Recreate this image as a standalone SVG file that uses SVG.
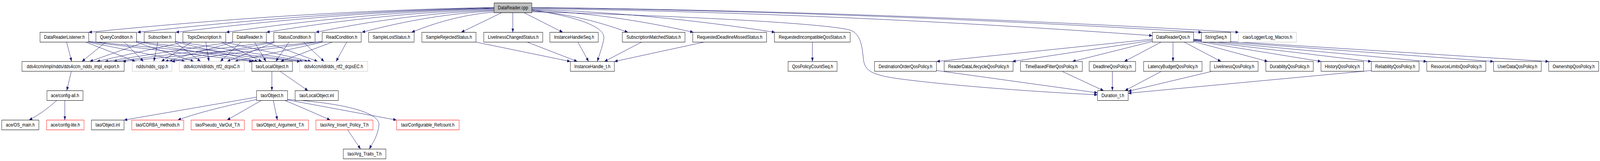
<svg xmlns="http://www.w3.org/2000/svg" width="4961" height="411" viewBox="0 0 4961 411" preserveAspectRatio="none">
<style>
svg{width:100vw;height:100vh}
.e{fill:none;stroke:#191970;stroke-width:1;marker-end:url(#ah)}
.n rect{fill:#fff;stroke:#000;stroke-width:1}
.g rect{stroke:#bfbfbf}
.r rect{stroke:#ff0000}
.m rect{fill:#bfbfbf}
text{font-family:"Liberation Sans",Arial,sans-serif;font-size:13px;text-anchor:middle;fill:#000}
</style>
<defs>
<marker id="ah" markerWidth="10" markerHeight="8" refX="10" refY="4" orient="auto" markerUnits="userSpaceOnUse"><path d="M0,0 L10,4 L0,8 z" fill="#191970"/></marker>
</defs>
<rect width="4961" height="411" fill="#fff"/>
<g id="connectors">
<path class="e" d="M1532,19 C1113,25.4 694,47.6 275,82.5"/>
<path class="e" d="M1532,20 C1163,26.3 795,48.1 426,82.5"/>
<path class="e" d="M1532,21 C1203,27.2 874,48.7 545,82.5"/>
<path class="e" d="M1532,22 C1255,28.1 978,49.2 701,82.5"/>
<path class="e" d="M1532,24 C1297,29.9 1061,50.3 826,82.5"/>
<path class="e" d="M1532,26 C1348,31.7 1163,51.4 979,82.5"/>
<path class="e" d="M1532,28 C1395,33.5 1259,52.5 1122,82.5"/>
<path class="e" d="M1532,31 C1447,36.2 1361,54.2 1276,82.5"/>
<path class="e" d="M1555,32.5 L1430,82.5"/>
<path class="e" d="M1590,32.5 L1590,82.5"/>
<path class="e" d="M1625,32.5 L1745,82.5"/>
<path class="e" d="M1649,25 C1800,45 1880,70 1872,100 C1866,125 1858,140 1852,157"/>
<path class="e" d="M1649,28 C1748,33.5 1848,52.5 1947,82.5"/>
<path class="e" d="M1649,26 C1816,31.7 1983,51.4 2150,82.5"/>
<path class="e" d="M1649,24 C1900,29.9 2152,50.3 2403,82.5"/>
<path class="e" d="M1649,22 C2290,28.9 2932,53 3573,91"/>
<path class="e" d="M1649,20 C2341,26.3 3034,48.1 3726,82.5"/>
<path class="e" d="M1649,19 C2380,25.4 3110,47.6 3841,82.5"/>
<path class="e" d="M1649,30 C2100,40 2580,60 2640,78 C2670,90 2673,120 2677,150 C2681,180 2700,190 2778,200 C2900,214 3150,232 3403,242"/>
<path class="e" d="M206.6,107.5 L222,157"/>
<path class="e" d="M266,107.5 L420,157"/>
<path class="e" d="M273,107.5 L574,157"/>
<path class="e" d="M273,106.5 L783,157"/>
<path class="e" d="M273,105.5 L931,157"/>
<path class="e" d="M328,107.5 L254,157"/>
<path class="e" d="M385.5,107.5 L445,157"/>
<path class="e" d="M421.5,107.5 L601,157"/>
<path class="e" d="M421.5,106.5 L790,157"/>
<path class="e" d="M421.5,105.5 L940,157"/>
<path class="e" d="M449,107.5 L278,157"/>
<path class="e" d="M489.6,107.5 L477,157"/>
<path class="e" d="M542,107.5 L622,157"/>
<path class="e" d="M542,106.5 L800,157"/>
<path class="e" d="M542,105.5 L955,157"/>
<path class="e" d="M569,107.5 L300,157"/>
<path class="e" d="M594,107.5 L500,157"/>
<path class="e" d="M638,107.5 L648,157"/>
<path class="e" d="M687,107.5 L812,157"/>
<path class="e" d="M698,107.5 L965,157"/>
<path class="e" d="M723.5,106.5 L325,157"/>
<path class="e" d="M723.5,107.5 L512,157"/>
<path class="e" d="M747,107.5 L683,157"/>
<path class="e" d="M789,107.5 L825,157"/>
<path class="e" d="M824,107.5 L985,157"/>
<path class="e" d="M851,106.5 L352,157"/>
<path class="e" d="M851,107.5 L524,157"/>
<path class="e" d="M852,107.5 L704,157"/>
<path class="e" d="M896,107.5 L855,157"/>
<path class="e" d="M941,107.5 L1005,157"/>
<path class="e" d="M1001,105.5 L380,157"/>
<path class="e" d="M1001,106.5 L532,157"/>
<path class="e" d="M1001,107.5 L728,157"/>
<path class="e" d="M1030,107.5 L870,157"/>
<path class="e" d="M1075,107.5 L1042,157"/>
<path class="e" d="M1476,107.5 L1768.5,157"/>
<path class="e" d="M1635,107.5 L1790,157"/>
<path class="e" d="M1792,107.5 L1825,157"/>
<path class="e" d="M1989,107.5 L1874,157"/>
<path class="e" d="M2183,107.5 L1905,157"/>
<path class="e" d="M2519,107.5 L2519,157"/>
<path class="e" d="M3573,100 L2904,157"/>
<path class="e" d="M3573,103 L3139,157"/>
<path class="e" d="M3573,106 L3325,157"/>
<path class="e" d="M3600,107.5 L3486,157"/>
<path class="e" d="M3637,107.5 L3637,157"/>
<path class="e" d="M3672,107.5 L3786,157"/>
<path class="e" d="M3701,106 L3931,157"/>
<path class="e" d="M3701,104 L4096,157"/>
<path class="e" d="M3701,103 L4252,157"/>
<path class="e" d="M3701,102 L4424,157"/>
<path class="e" d="M3701,101 L4631,157"/>
<path class="e" d="M3701,100 L4802,157"/>
<path class="e" d="M2904,180 L3403,237"/>
<path class="e" d="M3294,182.5 L3422,231.5"/>
<path class="e" d="M3449,182.5 L3449,231.5"/>
<path class="e" d="M3600,182.5 L3488,231.5"/>
<path class="e" d="M3756,182.5 L3498,233"/>
<path class="e" d="M4252,180 L3498,238"/>
<path class="e" d="M221,182.5 L207,231.5"/>
<path class="e" d="M176,256.5 Q130,290 90,306.5"/>
<path class="e" d="M201,256.5 L201,306.5"/>
<path class="e" d="M843,182.5 L843,231.5"/>
<path class="e" d="M869,182.5 L955,231.5"/>
<path class="e" d="M795.5,248 L384.5,306.5"/>
<path class="e" d="M795.5,254 Q640,280 551,306.5"/>
<path class="e" d="M810,256.5 L704,306.5"/>
<path class="e" d="M847.5,256.5 L860,306.5"/>
<path class="e" d="M883.5,256.5 Q930,272 1024,306.5"/>
<path class="e" d="M891.5,255 L1229.5,306.5"/>
<path class="e" d="M891.5,254 C1050,262 1180,285 1175,320 C1170,350 1155,365 1145,380.5"/>
<path class="e" d="M1078,331.5 L1118,380.5"/>
</g>
<g id="DataReader_cpp" class="n m"><rect x="1532" y="7.5" width="117" height="25"/><text x="1590.5" y="24.5">DataReader.cpp</text></g>
<g id="DataReaderListener_h" class="n"><rect x="124" y="82.5" width="151" height="25"/><text x="199.5" y="99.5">DataReaderListener.h</text></g>
<g id="QueryCondition_h" class="n"><rect x="297.5" y="82.5" width="126" height="25"/><text x="360.5" y="99.5">QueryCondition.h</text></g>
<g id="Subscriber_h" class="n"><rect x="447" y="82.5" width="97" height="25"/><text x="495.5" y="99.5">Subscriber.h</text></g>
<g id="TopicDescription_h" class="n"><rect x="567" y="82.5" width="133" height="25"/><text x="633.5" y="99.5">TopicDescription.h</text></g>
<g id="DataReader_h" class="n"><rect x="721.5" y="82.5" width="104.5" height="25"/><text x="773.75" y="99.5">DataReader.h</text></g>
<g id="StatusCondition_h" class="n"><rect x="849" y="82.5" width="128" height="25"/><text x="913" y="99.5">StatusCondition.h</text></g>
<g id="ReadCondition_h" class="n"><rect x="999" y="82.5" width="121" height="25"/><text x="1059.5" y="99.5">ReadCondition.h</text></g>
<g id="SampleLostStatus_h" class="n"><rect x="1143" y="82.5" width="141" height="25"/><text x="1213.5" y="99.5">SampleLostStatus.h</text></g>
<g id="SampleRejectedStatus_h" class="n"><rect x="1308" y="82.5" width="168" height="25"/><text x="1392" y="99.5">SampleRejectedStatus.h</text></g>
<g id="LivelinessChangedStatus_h" class="n"><rect x="1500" y="82.5" width="183" height="25"/><text x="1591.5" y="99.5">LivelinessChangedStatus.h</text></g>
<g id="InstanceHandleSeq_h" class="n"><rect x="1705" y="82.5" width="150" height="25"/><text x="1780" y="99.5">InstanceHandleSeq.h</text></g>
<g id="SubscriptionMatchedStatus_h" class="n"><rect x="1929.5" y="82.5" width="194.5" height="25"/><text x="2026.75" y="99.5">SubscriptionMatchedStatus.h</text></g>
<g id="RequestedDeadlineMissedStatus_h" class="n"><rect x="2148" y="82.5" width="229" height="25"/><text x="2262.5" y="99.5">RequestedDeadlineMissedStatus.h</text></g>
<g id="RequestedIncompatibleQosStatus_h" class="n"><rect x="2401" y="82.5" width="235" height="25"/><text x="2518.5" y="99.5">RequestedIncompatibleQosStatus.h</text></g>
<g id="DataReaderQos_h" class="n"><rect x="3573" y="82.5" width="128" height="25"/><text x="3637" y="99.5">DataReaderQos.h</text></g>
<g id="StringSeq_h" class="n"><rect x="3725" y="82.5" width="91" height="25"/><text x="3770.5" y="99.5">StringSeq.h</text></g>
<g id="Log_Macros_h" class="n g"><rect x="3840" y="82.5" width="180" height="25"/><text x="3930" y="99.5">ciao/Logger/Log_Macros.h</text></g>
<g id="impl_export_h" class="n"><rect x="68" y="157" width="317" height="25"/><text x="226.5" y="174">dds4ccm/impl/ndds/dds4ccm_ndds_impl_export.h</text></g>
<g id="ndds_cpp_h" class="n g"><rect x="410" y="157" width="123" height="25"/><text x="471.5" y="174">ndds/ndds_cpp.h</text></g>
<g id="dds_rtf2_dcpsC_h" class="n g"><rect x="556" y="157" width="201.5" height="25"/><text x="656.75" y="174">dds4ccm/idl/dds_rtf2_dcpsC.h</text></g>
<g id="LocalObject_h" class="n"><rect x="781" y="157" width="126" height="25"/><text x="844" y="174">tao/LocalObject.h</text></g>
<g id="dds_rtf2_dcpsEC_h" class="n g"><rect x="929" y="157" width="211" height="25"/><text x="1034.5" y="174">dds4ccm/idl/dds_rtf2_dcpsEC.h</text></g>
<g id="InstanceHandle_t_h" class="n"><rect x="1768.5" y="157" width="136.5" height="25"/><text x="1836.75" y="174">InstanceHandle_t.h</text></g>
<g id="QosPolicyCountSeq_h" class="n"><rect x="2443.5" y="157" width="152" height="25"/><text x="2519.5" y="174">QosPolicyCountSeq.h</text></g>
<g id="DestinationOrderQosPolicy_h" class="n"><rect x="2711.5" y="157" width="192" height="25"/><text x="2807.5" y="174">DestinationOrderQosPolicy.h</text></g>
<g id="ReaderDataLifecycleQosPolicy_h" class="n"><rect x="2927.5" y="157" width="213.5" height="25"/><text x="3034.25" y="174">ReaderDataLifecycleQosPolicy.h</text></g>
<g id="TimeBasedFilterQosPolicy_h" class="n"><rect x="3164" y="157" width="192" height="25"/><text x="3260" y="174">TimeBasedFilterQosPolicy.h</text></g>
<g id="DeadlineQosPolicy_h" class="n"><rect x="3377" y="157" width="144" height="25"/><text x="3449" y="174">DeadlineQosPolicy.h</text></g>
<g id="LatencyBudgetQosPolicy_h" class="n"><rect x="3546" y="157" width="181" height="25"/><text x="3636.5" y="174">LatencyBudgetQosPolicy.h</text></g>
<g id="LivelinessQosPolicy_h" class="n"><rect x="3752" y="157" width="149" height="25"/><text x="3826.5" y="174">LivelinessQosPolicy.h</text></g>
<g id="DurabilityQosPolicy_h" class="n"><rect x="3925" y="157" width="147" height="25"/><text x="3998.5" y="174">DurabilityQosPolicy.h</text></g>
<g id="HistoryQosPolicy_h" class="n"><rect x="4096" y="157" width="132" height="25"/><text x="4162" y="174">HistoryQosPolicy.h</text></g>
<g id="ReliabilityQosPolicy_h" class="n"><rect x="4252" y="157" width="148" height="25"/><text x="4326" y="174">ReliabilityQosPolicy.h</text></g>
<g id="ResourceLimitsQosPolicy_h" class="n"><rect x="4424" y="157" width="183" height="25"/><text x="4515.5" y="174">ResourceLimitsQosPolicy.h</text></g>
<g id="UserDataQosPolicy_h" class="n"><rect x="4631" y="157" width="148" height="25"/><text x="4705" y="174">UserDataQosPolicy.h</text></g>
<g id="OwnershipQosPolicy_h" class="n"><rect x="4802" y="157" width="155" height="25"/><text x="4879.5" y="174">OwnershipQosPolicy.h</text></g>
<g id="config_all_h" class="n"><rect x="145.5" y="231.5" width="112" height="25"/><text x="201.5" y="248.5">ace/config-all.h</text></g>
<g id="Object_h" class="n"><rect x="795.5" y="231.5" width="96" height="25"/><text x="843.5" y="248.5">tao/Object.h</text></g>
<g id="LocalObject_inl" class="n"><rect x="915" y="231.5" width="134" height="25"/><text x="982" y="248.5">tao/LocalObject.inl</text></g>
<g id="Duration_t_h" class="n"><rect x="3403" y="231.5" width="95" height="25"/><text x="3450.5" y="248.5">Duration_t.h</text></g>
<g id="OS_main_h" class="n"><rect x="5.5" y="306.5" width="115" height="25"/><text x="63" y="323.5">ace/OS_main.h</text></g>
<g id="config_lite_h" class="n r"><rect x="144.5" y="306.5" width="116" height="25"/><text x="202.5" y="323.5">ace/config-lite.h</text></g>
<g id="Object_inl" class="n"><rect x="283.5" y="306.5" width="101" height="25"/><text x="334" y="323.5">tao/Object.inl</text></g>
<g id="CORBA_methods_h" class="n r"><rect x="408.5" y="306.5" width="161" height="25"/><text x="489" y="323.5">tao/CORBA_methods.h</text></g>
<g id="Pseudo_VarOut_T_h" class="n r"><rect x="592.5" y="306.5" width="165" height="25"/><text x="675" y="323.5">tao/Pseudo_VarOut_T.h</text></g>
<g id="Object_Argument_T_h" class="n r"><rect x="781.5" y="306.5" width="175" height="25"/><text x="869" y="323.5">tao/Object_Argument_T.h</text></g>
<g id="Any_Insert_Policy_T_h" class="n r"><rect x="979.5" y="306.5" width="177" height="25"/><text x="1068" y="323.5">tao/Any_Insert_Policy_T.h</text></g>
<g id="Configurable_Refcount_h" class="n r"><rect x="1229.5" y="306.5" width="194" height="25"/><text x="1326.5" y="323.5">tao/Configurable_Refcount.h</text></g>
<g id="Arg_Traits_T_h" class="n"><rect x="1064.5" y="380.5" width="132" height="25"/><text x="1130.5" y="397.5">tao/Arg_Traits_T.h</text></g>
</svg>
